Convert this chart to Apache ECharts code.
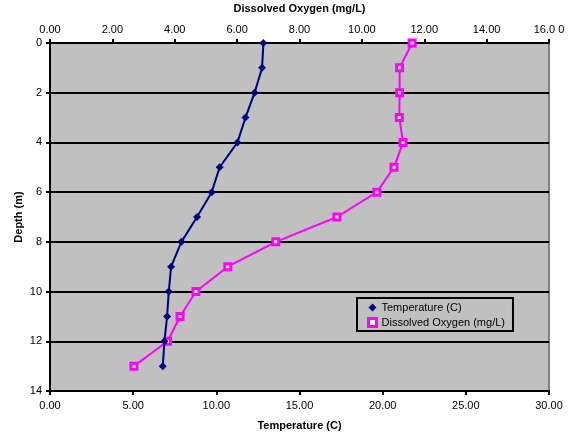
<!DOCTYPE html>
<html>
<head>
<meta charset="utf-8">
<script src="https://cdn.jsdelivr.net/npm/echarts@6/dist/echarts.min.js"></script>
<style>
  html, body { margin: 0; padding: 0; background: #fff; }
  #chart { width: 570px; height: 438px; }
</style>
</head>
<body>
<div id="chart"></div>
<script>
// Depth profile: temperature and dissolved oxygen by depth
const depths = [0, 1, 2, 3, 4, 5, 6, 7, 8, 9, 10, 11, 12, 13];
const temperature = [12.83, 12.75, 12.3, 11.75, 11.27, 10.2, 9.72, 8.84, 7.9, 7.28, 7.14, 7.04, 6.88, 6.78];
const dissolvedOxygen = [11.61, 11.21, 11.21, 11.2, 11.32, 11.03, 10.48, 9.2, 7.24, 5.7, 4.68, 4.17, 3.77, 2.69];

const FONT = 'Liberation Sans, Arial, sans-serif';
const tempPairs = temperature.map((t, i) => [t, depths[i]]);
const doPairs = dissolvedOxygen.map((d, i) => [d, depths[i]]);

const chart = echarts.init(document.getElementById('chart'), null, { renderer: 'canvas' });
chart.setOption({
  animation: false,
  backgroundColor: '#ffffff',
  textStyle: { fontFamily: FONT },
  grid: {
    left: 50, right: 21, top: 43, bottom: 47,
    outerBoundsMode: 'none', containLabel: false,
    show: true, backgroundColor: '#C0C0C0', borderColor: '#808080', borderWidth: 2
  },
  xAxis: [
    {
      type: 'value', position: 'bottom', min: 0, max: 30, interval: 5,
      name: 'Temperature (C)', nameLocation: 'middle', nameGap: 29,
      nameTextStyle: { fontFamily: FONT, fontSize: 11, fontWeight: 'bold', color: '#000' },
      axisLine: { show: true, onZero: false, lineStyle: { color: '#000', width: 2 } },
      axisTick: { show: true, length: 4, lineStyle: { color: '#000', width: 2 } },
      axisLabel: { fontFamily: FONT, fontSize: 11, color: '#000', margin: 9,
        formatter: v => v.toFixed(2) },
      splitLine: { show: false }
    },
    {
      type: 'value', position: 'top', min: 0, max: 16, interval: 2,
      name: 'Dissolved Oxygen (mg/L)', nameLocation: 'middle', nameGap: 29,
      nameTextStyle: { fontFamily: FONT, fontSize: 11, fontWeight: 'bold', color: '#000' },
      axisLine: { show: true, onZero: false, lineStyle: { color: '#000', width: 2 } },
      axisTick: { show: true, length: 4, lineStyle: { color: '#000', width: 2 } },
      axisLabel: { fontFamily: FONT, fontSize: 11, color: '#000', margin: 8,
        formatter: v => v === 16 ? '16.0 0' : (v === 0 ? '0.00' : v.toFixed(2)) },
      splitLine: { show: false }
    }
  ],
  yAxis: {
    type: 'value', inverse: true, min: 0, max: 14, interval: 2,
    name: 'Depth (m)', nameLocation: 'middle', nameGap: 26, nameRotate: 90,
    nameMoveOverlap: false,
    nameTextStyle: { fontFamily: FONT, fontSize: 11, fontWeight: 'bold', color: '#000' },
    axisLine: { show: true, lineStyle: { color: '#000', width: 2 } },
    axisTick: { show: true, length: 4, lineStyle: { color: '#000', width: 2 } },
    axisLabel: { fontFamily: FONT, fontSize: 11, color: '#000', margin: 8 },
    splitLine: { show: true, lineStyle: { color: '#000', width: 2 } }
  },
  legend: {
    left: 357, top: 298, orient: 'vertical',
    padding: [4, 8, 3, 10], itemGap: 4, itemWidth: 8, itemHeight: 8,
    borderColor: '#000', borderWidth: 2, backgroundColor: '#C0C0C0',
    textStyle: { fontFamily: FONT, fontSize: 11, color: '#000' },
    data: [
      { name: 'Temperature (C)', icon: 'diamond' },
      { name: 'Dissolved Oxygen (mg/L)', icon: 'rect',
        itemStyle: { color: '#ffffff', borderColor: '#FF00FF', borderWidth: 3 } }
    ]
  },
  series: [
    {
      name: 'Temperature (C)', type: 'line', xAxisIndex: 0, yAxisIndex: 0,
      data: tempPairs, symbol: 'diamond', symbolSize: 8,
      lineStyle: { color: '#000080', width: 2 },
      itemStyle: { color: '#000080' }, z: 3
    },
    {
      name: 'Dissolved Oxygen (mg/L)', type: 'line', xAxisIndex: 1, yAxisIndex: 0,
      data: doPairs, symbol: 'rect', symbolSize: 6,
      lineStyle: { color: '#FF00FF', width: 2 },
      itemStyle: { color: '#ffffff', borderColor: '#FF00FF', borderWidth: 3 }, z: 2
    }
  ]
});
</script>
</body>
</html>
